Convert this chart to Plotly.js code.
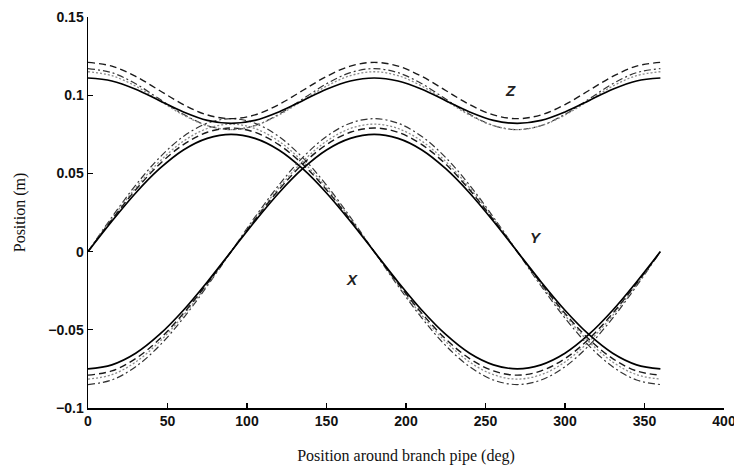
<!DOCTYPE html>
<html>
<head>
<meta charset="utf-8">
<script src="https://cdn.plot.ly/plotly-3.0.1.min.js"></script>
<style>html,body{margin:0;padding:0;background:#fff;}#chart{width:734px;height:473px;}</style>
</head>
<body>
<div id="chart"></div>
<script>
// Angle around branch pipe (deg)
const angle = [0,15,30,45,60,75,90,105,120,135,150,165,180,195,210,225,240,255,270,285,300,315,330,345,360];

// X coordinate curves (four cases)
const xSolid   = [0,0.0194,0.0375,0.0530,0.0650,0.0724,0.0750,0.0724,0.0650,0.0530,0.0375,0.0194,0,-0.0194,-0.0375,-0.0530,-0.0650,-0.0724,-0.0750,-0.0724,-0.0650,-0.0530,-0.0375,-0.0194,0];
const xDashed  = [0,0.0204,0.0395,0.0559,0.0684,0.0763,0.0790,0.0763,0.0684,0.0559,0.0395,0.0204,0,-0.0204,-0.0395,-0.0559,-0.0684,-0.0763,-0.0790,-0.0763,-0.0684,-0.0559,-0.0395,-0.0204,0];
const xDotted  = [0,0.0211,0.0408,0.0576,0.0706,0.0787,0.0815,0.0787,0.0706,0.0576,0.0408,0.0211,0,-0.0211,-0.0408,-0.0576,-0.0706,-0.0787,-0.0815,-0.0787,-0.0706,-0.0576,-0.0408,-0.0211,0];
const xDashDot = [0,0.0220,0.0425,0.0601,0.0736,0.0821,0.0850,0.0821,0.0736,0.0601,0.0425,0.0220,0,-0.0220,-0.0425,-0.0601,-0.0736,-0.0821,-0.0850,-0.0821,-0.0736,-0.0601,-0.0425,-0.0220,0];

// Y coordinate curves
const ySolid   = [-0.0750,-0.0724,-0.0650,-0.0530,-0.0375,-0.0194,0,0.0194,0.0375,0.0530,0.0650,0.0724,0.0750,0.0724,0.0650,0.0530,0.0375,0.0194,0,-0.0194,-0.0375,-0.0530,-0.0650,-0.0724,-0.0750];
const yDashed  = [-0.0790,-0.0763,-0.0684,-0.0559,-0.0395,-0.0204,0,0.0204,0.0395,0.0559,0.0684,0.0763,0.0790,0.0763,0.0684,0.0559,0.0395,0.0204,0,-0.0204,-0.0395,-0.0559,-0.0684,-0.0763,-0.0790];
const yDotted  = [-0.0815,-0.0787,-0.0706,-0.0576,-0.0408,-0.0211,0,0.0211,0.0408,0.0576,0.0706,0.0787,0.0815,0.0787,0.0706,0.0576,0.0408,0.0211,0,-0.0211,-0.0408,-0.0576,-0.0706,-0.0787,-0.0815];
const yDashDot = [-0.0850,-0.0821,-0.0736,-0.0601,-0.0425,-0.0220,0,0.0220,0.0425,0.0601,0.0736,0.0821,0.0850,0.0821,0.0736,0.0601,0.0425,0.0220,0,-0.0220,-0.0425,-0.0601,-0.0736,-0.0821,-0.0850];

// Z coordinate curves
const zSolid   = [0.1110,0.1091,0.1038,0.0965,0.0893,0.0839,0.0820,0.0839,0.0893,0.0965,0.1038,0.1091,0.1110,0.1091,0.1038,0.0965,0.0893,0.0839,0.0820,0.0839,0.0893,0.0965,0.1038,0.1091,0.1110];
const zDashed  = [0.1210,0.1186,0.1120,0.1030,0.0940,0.0874,0.0850,0.0874,0.0940,0.1030,0.1120,0.1186,0.1210,0.1186,0.1120,0.1030,0.0940,0.0874,0.0850,0.0874,0.0940,0.1030,0.1120,0.1186,0.1210];
const zDotted  = [0.1150,0.1125,0.1058,0.0965,0.0873,0.0805,0.0780,0.0805,0.0873,0.0965,0.1058,0.1125,0.1150,0.1125,0.1058,0.0965,0.0873,0.0805,0.0780,0.0805,0.0873,0.0965,0.1058,0.1125,0.1150];
const zDashDot = [0.1170,0.1144,0.1073,0.0975,0.0878,0.0806,0.0780,0.0806,0.0878,0.0975,0.1073,0.1144,0.1170,0.1144,0.1073,0.0975,0.0878,0.0806,0.0780,0.0806,0.0878,0.0975,0.1073,0.1144,0.1170];

// Curve labels
const labelText = ["X","Y","Z"];
const labelX = [166, 282, 266];
const labelY = [-0.018, 0.009, 0.103];

const styles = {
  solid:   {color:'#000000', width:1.7, dash:'solid'},
  dashed:  {color:'#1a1a1a', width:1.4, dash:'7px,4px'},
  dotted:  {color:'#8a8a8a', width:1.3, dash:'2px,2px'},
  dashdot: {color:'#333333', width:1.2, dash:'7px,3px,2px,3px'}
};

const series = [
  [xDashDot,'dashdot'],[xDotted,'dotted'],[xDashed,'dashed'],[xSolid,'solid'],
  [yDashDot,'dashdot'],[yDotted,'dotted'],[yDashed,'dashed'],[ySolid,'solid'],
  [zDashDot,'dashdot'],[zDotted,'dotted'],[zDashed,'dashed'],[zSolid,'solid']
];

const traces = series.map(([vals, st]) => ({
  x: angle, y: vals, type:'scatter', mode:'lines',
  line: Object.assign({shape:'spline', smoothing:1}, styles[st]),
  showlegend:false, hoverinfo:'skip'
}));

const annotations = labelText.map((t,i)=>({
  x: labelX[i], y: labelY[i], xref:'x', yref:'y', text: t, showarrow:false,
  font:{family:'Liberation Sans, Arial, sans-serif', size:15, color:'#222', weight:'bold', style:'italic'}
}));

const tickFont = {family:'Liberation Sans, Arial, sans-serif', size:14, color:'#111', weight:'bold'};
const titleFont = {family:'Liberation Serif, Times New Roman, serif', size:16, color:'#111'};

const layout = {
  width:734, height:473,
  margin:{l:88, r:10, t:17, b:65},
  paper_bgcolor:'#fff', plot_bgcolor:'#fff',
  showlegend:false,
  xaxis:{
    range:[0,400.01], tickmode:'linear', tick0:0, dtick:50,
    showline:true, linecolor:'#000', linewidth:1.5, mirror:false,
    ticks:'inside', ticklen:5, tickwidth:1.3, tickcolor:'#000',
    showgrid:false, zeroline:false, tickfont:tickFont, ticklabeloverflow:'allow',
    title:{text:'Position around branch pipe (deg)', font:titleFont, standoff:21}
  },
  yaxis:{
    range:[-0.1,0.15], tickmode:'linear', tick0:-0.1, dtick:0.05,
    showline:true, linecolor:'#000', linewidth:1.5, mirror:false,
    ticks:'inside', ticklen:5, tickwidth:1.3, tickcolor:'#000',
    showgrid:false, zeroline:false, tickfont:tickFont, ticklabeloverflow:'allow',
    title:{text:'Position (m)', font:titleFont, standoff:18}
  },
  annotations: annotations
};

Plotly.newPlot('chart', traces, layout, {staticPlot:true, displayModeBar:false});
</script>
</body>
</html>
